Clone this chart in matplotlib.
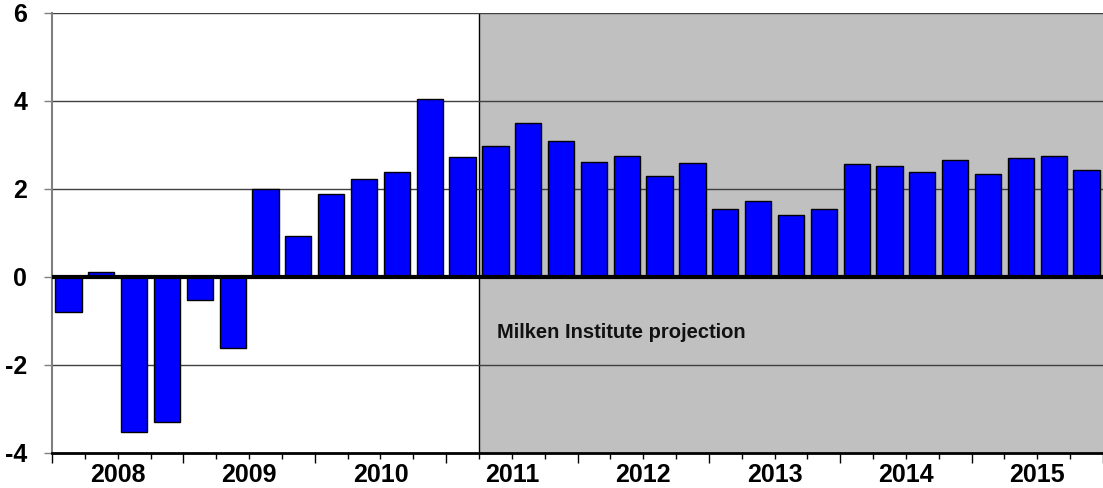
import matplotlib
matplotlib.use('Agg')
from matplotlib import pyplot as plt

plt.rcParams['font.family'] = ['Liberation Sans', 'DejaVu Sans']
plt.rcParams['font.weight'] = 'bold'

years = ['2008', '2009', '2010', '2011', '2012', '2013', '2014', '2015']
values = [-0.79, 0.11, -3.52, -3.29, -0.52, -1.61, 2.00, 0.94,
          1.88, 2.22, 2.39, 4.04, 2.72, 2.98, 3.51, 3.08,
          2.62, 2.74, 2.30, 2.58, 1.55, 1.73, 1.42, 1.55,
          2.56, 2.52, 2.39, 2.67, 2.35, 2.71, 2.74, 2.44]
projection_start = 13  # first projected quarter (2011 Q2)
yticks = [-4, -2, 0, 2, 4, 6]

fig = plt.figure(figsize=(11.03, 4.88), dpi=100)
ax = fig.add_axes([52 / 1103, 35 / 488, 1051 / 1103, 440 / 488])

n = len(values)
x = list(range(n))
# plot is cut at the right edge, last bar only partly visible
ax.set_xlim(-0.5, -0.5 + 1051 / 33.18)
ax.set_ylim(-4, 6)

# projection shading
ax.axvspan(projection_start - 0.5, n + 1, color='#c0c0c0', zorder=0, lw=0)
ax.axvline(projection_start - 0.5, color='black', lw=1, zorder=1)

# grid lines
for yv in yticks:
    if yv not in (0, -4):
        ax.axhline(yv, color='#404040', lw=1, zorder=1)

ax.bar(x, values, width=0.8, color='#0000ff', edgecolor='black', lw=1, zorder=2)
ax.axhline(0, color='black', lw=3, zorder=3)

ax.text(projection_start + 0.06, -1.27, 'Milken Institute projection',
        fontsize=14.5, fontweight='bold', ha='left', va='center', color='#111111', zorder=4)

# axes styling
for s in ['top', 'right']:
    ax.spines[s].set_visible(False)
ax.spines['left'].set_color('#808080')
ax.spines['left'].set_linewidth(1.5)
ax.spines['bottom'].set_color('black')
ax.spines['bottom'].set_linewidth(2)

ax.set_yticks(yticks)
ax.set_yticklabels([str(v) for v in yticks])
ax.tick_params(axis='y', length=6, width=1, color='#808080', pad=12, labelsize=18)

ax.set_xticks([i * 4 - 0.5 for i in range(len(years) + 1)])
ax.set_xticklabels([])
ax.set_xticks([i - 0.5 for i in range(n + 1)], minor=True)
ax.tick_params(axis='x', which='major', length=7, width=1, color='black')
ax.tick_params(axis='x', which='minor', length=4, width=1, color='black')

for i, yr in enumerate(years):
    ax.text(i * 4 + 1.5, -0.05, yr, transform=ax.get_xaxis_transform(),
            ha='center', va='center', fontsize=18, fontweight='bold')

fig.savefig('out.png', dpi=100)
